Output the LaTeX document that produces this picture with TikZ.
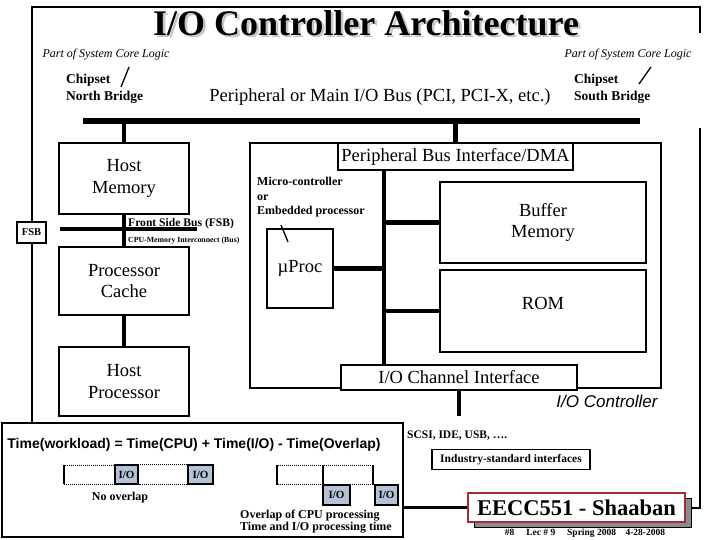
\documentclass[tikz,border=0pt]{standalone}
\usepackage{fontspec}
\setmainfont{Liberation Serif}
\setsansfont{Liberation Sans}
\usepackage{xcolor}
\usetikzlibrary{positioning}
\definecolor{iofill}{HTML}{B4C2D8}
\definecolor{eered}{HTML}{A8283C}
\definecolor{shadow}{HTML}{8C8C8C}
\newcommand{\fsz}[2]{\fontsize{#1}{#2}\selectfont}
\newcommand{\shadowed}[1]{\makebox[0pt][l]{\kern2.5pt\raisebox{-2.5pt}{\textcolor{gray!45}{#1}}}#1}

\begin{document}
\begin{tikzpicture}[x=1pt,y=-1pt,
    box/.style={draw,line width=2.6pt,fill=white,inner sep=0pt,align=center,font=\fsz{18.5}{21.5}},
    tag/.style={draw,line width=1.8pt,fill=white,inner sep=0pt,font=\bfseries\fsz{11.5}{13}},
    bus/.style={line width=6pt},
    link/.style={line width=4.8pt},
    frame/.style={line width=2.8pt},
    note/.style={inner sep=0pt,align=left,font=\bfseries\fsz{12}{14.5}},
    core/.style={inner sep=0pt,font=\itshape\fsz{12}{13}},
    iobox/.style={draw,line width=1.2pt,fill=iofill,inner sep=0pt,minimum height=19pt,font=\bfseries\fsz{11}{11}},
    slot/.style={densely dotted,line width=1pt}]
  \useasboundingbox (0,0) rectangle (720,540);

  % title
  \node[font=\bfseries\fsz{36}{36}] (title) at (366,24) {\shadowed{I/O Controller Architecture}};

  % outer frame
  \draw[frame] (32,423) -- (32,7) -- (700,7) -- (700,33);
  \draw[frame] (700,128) -- (700,508) -- (690,508);

  % chipsets and main bus
  \node[core] (corel) at (106,55) {Part of System Core Logic};
  \node[core] (corer) at (628,55) {Part of System Core Logic};
  \node[note,anchor=west,font=\bfseries\fsz{13.5}{17}] (north) at (66,89) {Chipset\\North Bridge};
  \node[note,anchor=west,font=\bfseries\fsz{13.5}{17}] (south) at (574,89) {Chipset\\South Bridge};
  \draw[line width=1.3pt] (121,87) -- (129,67);
  \draw[line width=1.3pt] (639,84) -- (651,67);
  \node[font=\fsz{18.5}{20}] (buslbl) at (380,97) {Peripheral or Main I/O Bus (PCI, PCI-X, etc.)};
  \coordinate (busl) at (83,121);
  \coordinate (busr) at (640,121);
  \draw[bus] (busl) -- (busr);

  % host side
  \node[box,minimum width=130pt,minimum height=71pt] (hm) at (124,178.5) {Host\\Memory};
  \node[box,minimum width=130pt,minimum height=68pt] (pc) at (124,281) {Processor\\Cache};
  \node[box,minimum width=130pt,minimum height=69pt] (hp) at (124,381.5) {Host\\Processor};
  \draw[link] (hm.north |- busl) -- (hm.north);
  \draw[link] (hm.south) -- (pc.north);
  \draw[link] (pc.south) -- (hp.north);
  \node[tag,minimum width=29pt,minimum height=21pt,font=\bfseries\fsz{10.5}{12}] (fsb) at (31.5,232.5) {FSB};
  \coordinate (fsbl) at (60,229);
  \coordinate (fsbr) at (197,229);
  \draw[link] (fsbl) -- (fsbr);
  \node[note,anchor=base west,font=\bfseries\fsz{11.6}{13}] (fsblbl) at (128,226) {Front Side Bus (FSB)};
  \node[note,anchor=base west,font=\bfseries\fsz{7.8}{9}] (cpulbl) at (128,242) {CPU-Memory Interconnect (Bus)};

  % I/O controller
  \node[box,minimum width=411pt,minimum height=245pt] (ioc) at (455.5,265.5) {};
  \node[inner sep=0pt,font=\sffamily\itshape\fsz{17}{17}] (ioclbl) at (607,401) {I/O Controller};
  \node[box,minimum width=235pt,minimum height=27pt] (pbi) at (455.5,156.5) {Peripheral Bus Interface/DMA};
  \draw[link] (pbi.north |- busl) -- (pbi.north);
  \node[box,minimum width=206pt,minimum height=81pt] (bm) at (543,222.5) {Buffer\\Memory};
  \node[box,minimum width=206pt,minimum height=82pt,text depth=16pt] (rom) at (543,311) {ROM};
  \node[box,minimum width=66pt,minimum height=79pt] (up) at (300,268.5) {µProc};
  \node[box,minimum width=236pt,minimum height=25pt] (chan) at (459,377.5) {I/O Channel Interface};
  \coordinate (ib) at (384,170);
  \draw[link] (ib) -- (ib |- chan.north);
  \draw[link] (ib |- bm.west) -- (bm.west);
  \draw[link] (up.east) -- (up.east -| ib);
  \draw[link] (ib |- rom.west) -- (rom.west);
  \draw[link] (chan.south) -- ++(0,25);
  \node[note,anchor=west] (mc) at (257,197.5) {Micro-controller\\or\\Embedded processor};
  \draw[line width=1.3pt] (281,225) -- (288,242);

  % workload equation
  \node[draw,line width=2.6pt,minimum width=401pt,minimum height=114pt,inner sep=0pt] (tb) at (202.5,480) {};
  \node[inner sep=0pt,font=\sffamily\bfseries\fsz{14}{16}] (formula) at (194,445) {Time(workload) = Time(CPU) + Time(I/O) - Time(Overlap)};
  \node[iobox,minimum width=23pt] (io1) at (126.5,474.5) {I/O};
  \node[iobox,minimum width=25pt] (io2) at (200.5,474.5) {I/O};
  \draw[slot] (64,465) rectangle (io1.south west);
  \draw[slot] (io1.north east) rectangle (io2.south west);
  \draw[line width=1.4pt] (64,465) -- (64,484);
  \node[note] (noov) at (120,498) {No overlap};
  \draw[slot] (277,465) rectangle (373,484);
  \draw[line width=1.4pt] (277,465) -- (277,485) (323,465) -- (323,485) (373,465) -- (373,485);
  \node[iobox,minimum width=27pt,minimum height=20pt] (io3) at (336.5,495) {I/O};
  \node[iobox,minimum width=23pt,minimum height=20pt] (io4) at (386.5,495) {I/O};
  \node[note,anchor=west,font=\bfseries\fsz{12}{12}] (ov) at (240,522) {Overlap of CPU processing\\Time and I/O processing time};

  % interfaces
  \node[note,anchor=west,font=\bfseries\fsz{11.5}{13}] (scsi) at (407,436) {SCSI, IDE, USB, ….};
  \node[tag,minimum width=158pt,minimum height=20pt] (ind) at (511,459.5) {Industry-standard interfaces};

  % footer
  \node[draw=black,fill=shadow,line width=1pt,minimum width=217pt,minimum height=29pt] (eeshadow) at (582.5,512.5) {};
  \node[draw=eered,fill=white,line width=2pt,minimum width=217pt,minimum height=29pt,inner sep=0pt,font=\bfseries\fsz{22.5}{22.5}] (ee) at (576.5,507.5) {EECC551 - Shaaban};
  \draw[line width=2.4pt] (ee.west -| tb.east) -- (ee.west);
  \node[inner sep=0pt,font=\bfseries\fsz{9.5}{10}] (foot) at (585,533) {\#8\quad\ Lec \# 9\quad\ Spring 2008\quad 4-28-2008};
\end{tikzpicture}
\end{document}
